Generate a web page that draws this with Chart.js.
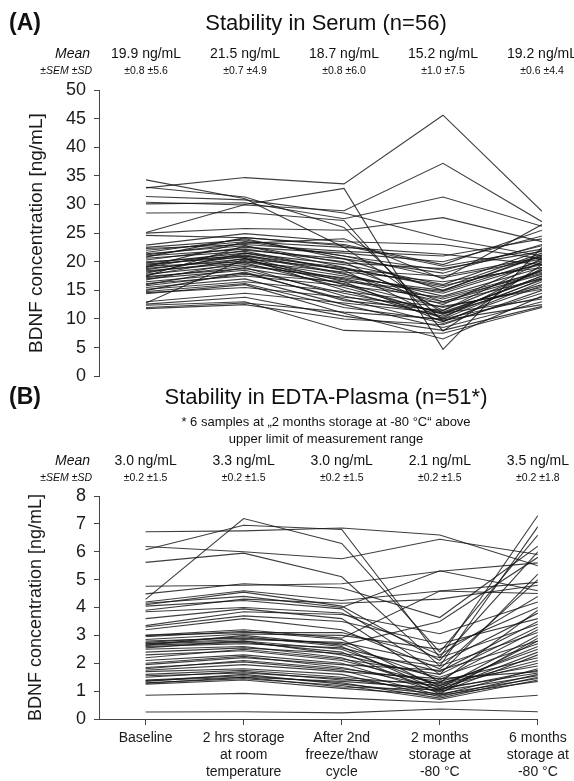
<!DOCTYPE html>
<html>
<head>
<meta charset="utf-8">
<script src="https://cdn.jsdelivr.net/npm/chart.js@4.4.0/dist/chart.umd.min.js"></script>
<style>
html, body { margin: 0; padding: 0; background: #fff; }
.panel { position: absolute; left: 0; width: 574px; }
#panelA { top: 0; height: 395px; }
#panelB { top: 385px; height: 396px; }
</style>
</head>
<body>
<div class="panel" id="panelA"><canvas id="serumChart"></canvas></div>
<div class="panel" id="panelB"><canvas id="plasmaChart"></canvas></div>
<script>
const FONT = '"Liberation Sans", Arial, sans-serif';

// Time points of the stability protocol
const timepoints = [
    ['Baseline'],
    ['2 hrs storage', 'at room', 'temperature'],
    ['After 2nd', 'freeze/thaw', 'cycle'],
    ['2 months', 'storage at', '-80 °C'],
    ['6 months', 'storage at', '-80 °C']
];

// Summary rows printed above each panel
const serumMean = [19.9, 21.5, 18.7, 15.2, 19.2];
const serumSem = [0.8, 0.7, 0.8, 1.0, 0.6];
const serumSd = [5.6, 4.9, 6.0, 7.5, 4.4];

const plasmaMean = [3.0, 3.3, 3.0, 2.1, 3.5];
const plasmaSem = [0.2, 0.2, 0.2, 0.2, 0.2];
const plasmaSd = [1.5, 1.5, 1.5, 1.5, 1.8];

// BDNF per serum sample [baseline, 2 hrs, freeze/thaw, 2 months, 6 months] (ng/mL)
const serumValues = [
    [34.3, 31.0, 22.5, 11.0, 17.5],
    [32.9, 34.7, 33.6, 45.6, 28.8],
    [31.4, 30.8, 28.5, 24.1, 21.0],
    [30.4, 29.9, 28.9, 37.2, 27.0],
    [30.1, 30.3, 27.5, 31.3, 26.2],
    [28.5, 28.6, 27.2, 7.9, 19.5],
    [33.0, 31.3, 26.0, 9.6, 15.8],
    [25.1, 30.0, 32.8, 4.7, 22.5],
    [25.0, 25.8, 25.5, 27.7, 23.5],
    [22.9, 24.9, 23.5, 23.0, 20.5],
    [22.5, 23.8, 21.0, 18.5, 22.8],
    [22.0, 23.5, 22.5, 21.3, 19.5],
    [21.6, 24.0, 20.5, 15.0, 21.0],
    [21.4, 22.8, 19.0, 13.0, 18.5],
    [21.2, 23.2, 24.0, 17.0, 26.5],
    [21.0, 22.2, 20.0, 11.5, 20.0],
    [20.6, 21.8, 18.5, 10.0, 17.0],
    [20.3, 22.5, 21.5, 20.0, 24.5],
    [20.0, 21.0, 17.8, 14.0, 19.0],
    [19.8, 21.5, 19.5, 16.0, 22.0],
    [19.6, 20.8, 16.5, 9.5, 16.5],
    [19.4, 21.2, 18.0, 12.5, 20.5],
    [19.2, 20.0, 17.0, 13.5, 18.0],
    [19.0, 22.0, 20.5, 18.0, 23.0],
    [18.8, 20.5, 16.0, 10.8, 17.5],
    [18.6, 21.0, 19.0, 15.5, 21.5],
    [18.4, 19.8, 15.5, 11.0, 16.0],
    [18.2, 20.2, 17.5, 14.5, 19.8],
    [18.0, 21.5, 18.5, 17.5, 20.8],
    [17.8, 19.5, 16.8, 13.0, 17.8],
    [17.6, 20.6, 15.0, 10.2, 18.8],
    [17.4, 18.8, 16.2, 12.0, 15.5],
    [17.2, 19.2, 17.2, 15.0, 21.2],
    [17.0, 18.5, 14.5, 11.2, 17.2],
    [16.8, 20.0, 18.2, 16.5, 19.0],
    [16.5, 18.0, 13.5, 9.2, 14.5],
    [16.2, 17.5, 15.8, 13.8, 18.2],
    [16.0, 19.0, 14.0, 10.5, 16.8],
    [15.8, 17.8, 16.5, 14.8, 20.2],
    [15.5, 17.0, 12.5, 8.5, 13.0],
    [15.2, 16.5, 14.8, 12.8, 17.0],
    [15.0, 18.2, 13.2, 11.5, 18.5],
    [14.8, 16.2, 12.0, 9.8, 12.5],
    [14.6, 15.5, 13.8, 12.2, 15.2],
    [14.4, 16.0, 11.0, 6.5, 14.0],
    [13.0, 14.5, 12.8, 11.0, 13.5],
    [12.8, 20.5, 18.8, 15.8, 19.5],
    [12.6, 13.8, 10.5, 8.0, 12.2],
    [12.4, 13.0, 8.0, 7.5, 12.0],
    [12.0, 12.8, 11.2, 10.0, 13.8],
    [11.8, 12.5, 10.0, 9.0, 15.0],
    [24.6, 24.2, 23.0, 19.5, 25.5],
    [22.3, 23.0, 21.8, 21.0, 24.0],
    [20.8, 24.2, 22.8, 19.2, 22.2],
    [19.1, 23.5, 21.0, 17.2, 20.5],
    [17.5, 22.8, 19.8, 18.8, 21.8]
];

// BDNF per EDTA-plasma sample, same time points (ng/mL)
const plasmaValues = [
    [6.72, 6.75, 6.85, 6.60, 5.50],
    [6.19, 6.00, 5.75, 6.45, 5.90],
    [6.07, 6.95, 6.80, 2.20, 7.30],
    [5.62, 5.95, 5.10, 1.90, 6.90],
    [4.29, 7.19, 6.30, 2.40, 6.60],
    [4.76, 4.80, 4.85, 5.30, 5.60],
    [4.49, 4.85, 4.70, 3.64, 6.20],
    [4.20, 4.60, 4.25, 4.59, 4.90],
    [4.10, 4.55, 4.05, 2.10, 6.00],
    [4.05, 4.25, 3.95, 1.60, 5.20],
    [3.90, 4.30, 4.15, 4.30, 4.80],
    [3.85, 4.00, 3.80, 2.30, 4.40],
    [3.60, 3.95, 3.60, 1.30, 3.90],
    [3.35, 3.85, 3.75, 3.06, 4.20],
    [3.30, 3.70, 3.50, 2.70, 3.60],
    [3.20, 3.60, 3.20, 1.80, 5.00],
    [3.00, 3.10, 3.10, 2.20, 3.40],
    [2.95, 3.15, 2.85, 1.10, 3.00],
    [2.85, 3.05, 3.00, 2.50, 4.00],
    [2.80, 2.90, 2.70, 1.40, 3.20],
    [2.75, 2.95, 2.60, 1.00, 2.80],
    [2.72, 2.85, 2.75, 2.00, 3.80],
    [2.70, 2.80, 2.50, 1.20, 2.60],
    [2.65, 2.75, 2.40, 0.90, 2.90],
    [2.60, 2.70, 2.55, 1.70, 3.50],
    [2.55, 2.80, 2.30, 1.50, 2.70],
    [2.50, 2.60, 2.20, 1.05, 2.40],
    [2.40, 2.55, 2.35, 1.90, 3.10],
    [2.30, 2.45, 2.10, 1.25, 2.50],
    [2.20, 2.50, 2.15, 1.60, 3.30],
    [2.10, 2.30, 2.00, 0.95, 2.30],
    [2.00, 2.25, 1.85, 1.15, 2.00],
    [1.95, 2.20, 1.95, 1.75, 2.80],
    [1.85, 2.05, 1.75, 0.85, 1.80],
    [1.80, 2.10, 1.80, 1.35, 2.20],
    [1.75, 1.95, 1.70, 1.45, 1.70],
    [1.70, 1.80, 1.60, 0.80, 1.60],
    [1.60, 1.75, 1.50, 1.20, 2.10],
    [1.55, 1.65, 1.45, 1.00, 1.55],
    [1.50, 1.70, 1.40, 1.30, 1.90],
    [1.40, 1.55, 1.30, 0.75, 1.50],
    [1.38, 1.50, 1.35, 1.10, 1.65],
    [1.35, 1.60, 1.25, 0.90, 1.45],
    [1.30, 1.45, 1.20, 0.70, 1.40],
    [1.28, 1.50, 1.15, 1.05, 1.75],
    [1.25, 1.40, 1.10, 0.85, 1.35],
    [0.85, 0.92, 0.75, 0.60, 0.85],
    [0.25, 0.26, 0.22, 0.36, 0.26],
    [4.15, 4.40, 4.00, 5.32, 4.60],
    [3.00, 3.20, 2.90, 4.59, 4.50],
    [2.65, 3.00, 2.65, 3.50, 5.80]
];

// one thin grey line per sample
function toDatasets(rows) {
    return rows.map(row => ({
        data: row.map((v, i) => ({ x: i, y: v })),
        borderColor: 'rgba(20,20,20,0.82)',
        borderWidth: 1.1,
        pointRadius: 0,
        tension: 0,
        fill: false
    }));
}

function yScale(max, step, titleSize) {
    return {
        type: 'linear',
        min: 0,
        max: max,
        ticks: { stepSize: step, autoSkip: false, color: '#1a1a1a', font: { family: FONT, size: 18 }, padding: 8 },
        grid: { drawOnChartArea: false, drawTicks: true, tickLength: 5, color: '#444' },
        border: { display: true, color: '#444', width: 1 },
        title: {
            display: true,
            text: 'BDNF concentration [ng/mL]',
            color: '#1a1a1a',
            font: { family: FONT, size: titleSize },
            padding: { top: 25, bottom: 0 }
        },
        afterFit: s => { s.width = 99; }
    };
}

function xScale(show) {
    return {
        type: 'linear',
        display: show,
        min: -0.475,
        max: 4,
        afterBuildTicks: s => { s.ticks = timepoints.map((t, i) => ({ value: i })); },
        ticks: {
            autoSkip: false,
            maxRotation: 0,
            color: '#1a1a1a',
            font: { family: FONT, size: 14, lineHeight: 1.2 },
            padding: 5,
            callback: (value, index) => timepoints[index]
        },
        grid: { drawOnChartArea: false, drawTicks: true, tickLength: 6, color: '#444' },
        border: { display: true, color: '#444', width: 1 },
        afterFit: s => { if (show) s.height = 62; }
    };
}

// titles, footnote and the Mean / ±SEM ±SD rows
const panelText = {
    id: 'panelText',
    afterDraw(chart, args, opts) {
        const ctx = chart.ctx;
        const xs = chart.scales.x;
        ctx.save();
        ctx.fillStyle = '#111';
        ctx.textBaseline = 'middle';

        ctx.textAlign = 'left';
        ctx.font = 'bold 23px ' + FONT;
        ctx.fillText(opts.letter, 9, opts.titleY);

        ctx.textAlign = 'center';
        ctx.font = '22px ' + FONT;
        ctx.fillText(opts.title, 326, opts.titleY);
        ctx.font = '13px ' + FONT;
        opts.note.forEach((line, i) => ctx.fillText(line, 326, opts.noteY + i * 17));

        ctx.textAlign = 'right';
        ctx.font = 'italic 14px ' + FONT;
        ctx.fillText('Mean', 90, opts.meanY);
        ctx.font = 'italic 10.5px ' + FONT;
        ctx.fillText('±SEM ±SD', 92, opts.semY);

        ctx.textAlign = 'center';
        opts.mean.forEach((m, i) => {
            const x = xs.getPixelForValue(i);
            ctx.font = '14px ' + FONT;
            ctx.fillText(m.toFixed(1) + ' ng/mL', x, opts.meanY);
            ctx.font = '10.5px ' + FONT;
            ctx.fillText('±' + opts.sem[i].toFixed(1) + ' ±' + opts.sd[i].toFixed(1), x, opts.semY);
        });
        ctx.restore();
    }
};

function makeChart(id, rows, yMax, yStep, titleSize, showX, padding, text) {
    return new Chart(document.getElementById(id), {
        type: 'line',
        data: { datasets: toDatasets(rows) },
        options: {
            responsive: true,
            maintainAspectRatio: false,
            animation: false,
            layout: { padding: padding },
            plugins: { legend: { display: false }, tooltip: { enabled: false }, panelText: text },
            scales: { x: xScale(showX), y: yScale(yMax, yStep, titleSize) }
        },
        plugins: [panelText]
    });
}

makeChart('serumChart', serumValues, 50, 5, 19, false,
    { top: 90, right: 32, bottom: 0, left: 0 },
    {
        letter: '(A)', title: 'Stability in Serum (n=56)', titleY: 24,
        note: [], noteY: 0, meanY: 54, semY: 71,
        mean: serumMean, sem: serumSem, sd: serumSd
    });

makeChart('plasmaChart', plasmaValues, 8, 1, 18, true,
    { top: 111, right: 32, bottom: 0, left: 0 },
    {
        letter: '(B)', title: 'Stability in EDTA-Plasma (n=51*)', titleY: 13,
        note: ['* 6 samples at \u201E2 months storage at -80 °C\u201C above', 'upper limit of measurement range'],
        noteY: 37, meanY: 76, semY: 93,
        mean: plasmaMean, sem: plasmaSem, sd: plasmaSd
    });
</script>
</body>
</html>
